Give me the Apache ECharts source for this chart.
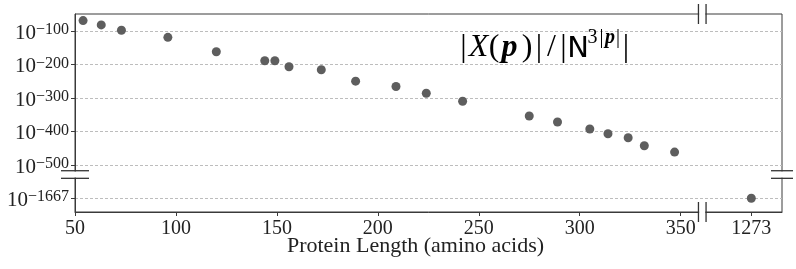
<!DOCTYPE html>
<html><head><meta charset="utf-8">
<script src="https://cdn.jsdelivr.net/npm/echarts@6/dist/echarts.min.js"></script>
<style>html,body{margin:0;padding:0;background:#fff}#c{width:796px;height:269px}</style>
</head><body><div id="c"></div>
<script>
// Data
const lengths   = [54, 63, 73, 96, 120, 144, 149, 156, 172, 189, 209, 224, 242, 275, 289, 305, 314, 324, 332, 347, 1273];
const exponents = [-69, -82, -98, -119, -162, -189, -189, -207, -216, -250, -266, -286, -310, -354, -372, -393, -407, -419, -443, -462, -1667];
const xTickLabels = [50, 100, 150, 200, 250, 300, 350, 1273];
const yTickExponents = [-100, -200, -300, -400, -500, -1667];

// Broken-axis mapping: far values are drawn in a compressed panel
const X_BREAK = 360.7, X_FAR = 385;
const Y_BREAK = -529, Y_FAR = -600;
const mx = v => v > X_BREAK ? X_FAR : v;
const my = v => v < Y_BREAK ? Y_FAR : v;

const xPos = xTickLabels.map(mx);
const yPos = yTickExponents.map(my);
const xLab = {}; xTickLabels.forEach((v, i) => xLab[xPos[i]] = String(v));
const yLab = {}; yTickExponents.forEach((v, i) => yLab[yPos[i]] = '\u2212' + String(-v));

const points = lengths.map((l, i) => [mx(l), my(exponents[i])]);

(function () {
const SERIF = '"Liberation Serif", "DejaVu Serif", serif';
const AX = '#3a3a3a';
const GRAY = '#777777';

const chart = echarts.init(document.getElementById('c'), null, {renderer: 'canvas'});
chart.setOption({
  animation: false,
  grid: {left: 75, right: 14, top: 14, bottom: 57, show: true, borderColor: AX, borderWidth: 1, backgroundColor: 'transparent'},
  xAxis: {
    type: 'value', min: 50, max: 400.2,
    axisLine: {show: true, lineStyle: {color: AX, width: 1}},
    axisTick: {show: true, length: 4, lineStyle: {color: AX}, customValues: xPos},
    axisLabel: {customValues: xPos, formatter: v => xLab[v] || '', color: '#222', fontFamily: SERIF, fontSize: 20, margin: 7},
    splitLine: {show: false}
  },
  yAxis: {
    type: 'value', min: -641, max: -49.3,
    axisLine: {show: true, lineStyle: {color: AX, width: 1}},
    axisTick: {show: true, length: 4, lineStyle: {color: AX}, customValues: yPos},
    axisLabel: {
      customValues: yPos,
      formatter: v => '{b|10}{s|' + (yLab[v] || '') + '}',
      margin: 6,
      padding: [4, 0, 0, 0],
      rich: {
        b: {fontFamily: SERIF, fontSize: 21, color: '#222', lineHeight: 22, verticalAlign: 'bottom', padding: [3, 0, 0, 0]},
        s: {fontFamily: SERIF, fontSize: 16, color: '#222', lineHeight: 22, verticalAlign: 'top'}
      }
    },
    splitLine: {show: true, lineStyle: {color: '#bdbdbd', type: [3, 2], width: 1}}
  },
  series: [{
    type: 'scatter', data: points, symbolSize: 9,
    itemStyle: {color: '#5e5e5e', opacity: 1}, z: 5
  }]
});

// decorations: break markers, annotation, axis title
const br = chart.convertToPixel({gridIndex: 0}, [X_BREAK, Y_BREAK]);
const tl = chart.convertToPixel({gridIndex: 0}, [50, -49.3]);
const rb = chart.convertToPixel({gridIndex: 0}, [400.2, -641]);
const bx = br[0], by = br[1];
const yTop = tl[1], yBot = rb[1], xL = tl[0], xR = rb[0];
const g = 3.8;
const ls = {stroke: '#333', lineWidth: 1.3};
const wr = {fill: '#fff'};
const line = (x1, y1, x2, y2) => ({type: 'line', shape: {x1, y1, x2, y2}, style: ls, z: 20, silent: true});
const rect = (x, y, w, h) => ({type: 'rect', shape: {x, y, width: w, height: h}, style: wr, z: 19, silent: true});

const big = (extra, w) => Object.assign({fontFamily: SERIF, fontSize: 32, color: GRAY, lineHeight: 36, verticalAlign: 'bottom', align: 'center', width: w}, extra);
const sml = (extra, w) => Object.assign({fontFamily: SERIF, fontSize: 20, color: GRAY, lineHeight: 30, verticalAlign: 'top', align: 'center', width: w}, extra);
const IT = {fontStyle: 'italic'};
const BI = {fontStyle: 'italic', fontWeight: 'bold'};

chart.setOption({graphic: [
  rect(bx - g + 0.7, yTop - 2, 2 * g - 1.4, 4),
  rect(bx - g + 0.7, yBot - 2, 2 * g - 1.4, 4),
  rect(xL - 2, by - g + 0.7, 4, 2 * g - 1.4),
  rect(xR - 2, by - g + 0.7, 4, 2 * g - 1.4),
  line(bx - g, yTop - 10, bx - g, yTop + 10),
  line(bx + g, yTop - 10, bx + g, yTop + 10),
  line(bx - g, yBot - 10, bx - g, yBot + 10),
  line(bx + g, yBot - 10, bx + g, yBot + 10),
  line(xL - 14, by - g, xL + 14, by - g),
  line(xL - 14, by + g, xL + 14, by + g),
  line(xR - 11, by - g, xR + 11, by - g),
  line(xR - 11, by + g, xR + 11, by + g),
  {
    type: 'text', x: 460, y: 28, z: 20, silent: true,
    style: {
      text: '{b0||}{x|X}{lp|(}{p|p}{rp|)}{b1||}{sl|/}{b2||}{n|N}{s3|3}{s1||}{sp|p}{s2||}{b3||}',
      rich: {
        b0: big({}, 7),
        x: big(IT, 23),
        lp: big({}, 8),
        p: big(BI, 23),
        rp: big({}, 12),
        b1: big({}, 12),
        sl: big({}, 13),
        b2: big({}, 11),
        n: big({fontFamily: '"DejaVu Sans", sans-serif', fontSize: 29}, 18),
        s3: sml({}, 11),
        s1: sml({}, 7),
        sp: sml(BI, 10),
        s2: sml({}, 6),
        b3: big({}, 10)
      }
    }
  },
  {
    type: 'text', x: 415.5, y: 246, z: 20, silent: true,
    style: {text: 'Protein Length (amino acids)', fontFamily: SERIF, fontSize: 22, fill: '#222', align: 'center', verticalAlign: 'middle'}
  }
]});
})();
</script>
</body></html>
